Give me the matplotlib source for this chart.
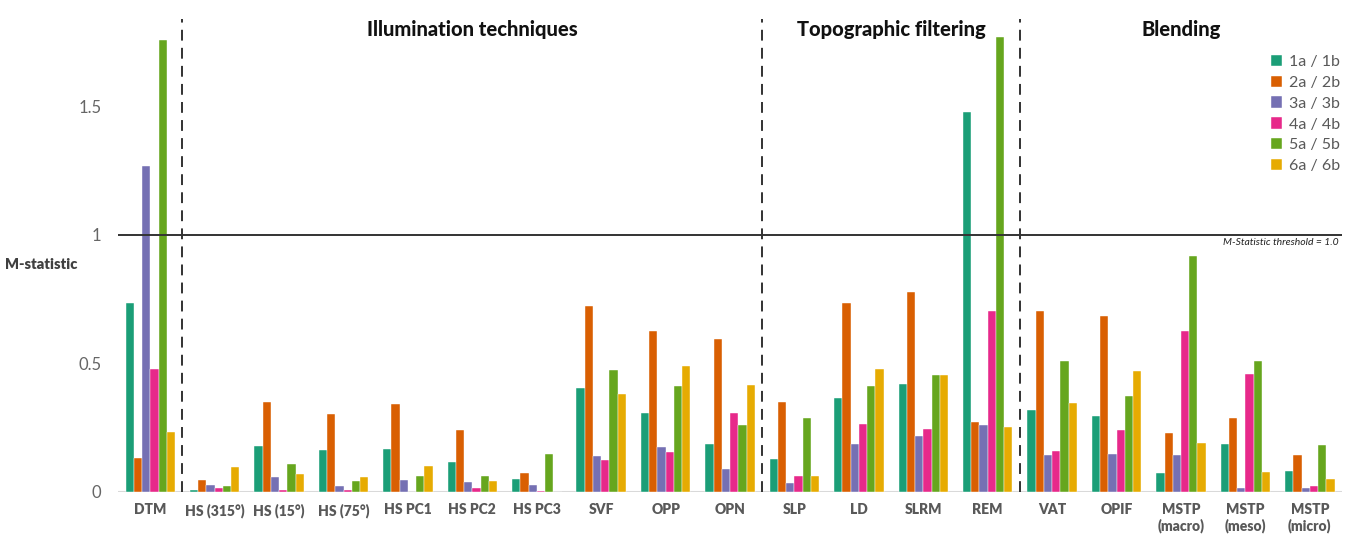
import matplotlib
matplotlib.use("Agg")
import matplotlib.pyplot as plt
import numpy as np

plt.rcParams['font.family'] = ['Lato', 'DejaVu Sans']

categories = ["DTM", "HS (315°)", "HS (15°)", "HS (75°)", "HS PC1", "HS PC2",
              "HS PC3", "SVF", "OPP", "OPN", "SLP", "LD", "SLRM", "REM",
              "VAT", "OPIF", "MSTP\n(macro)", "MSTP\n(meso)", "MSTP\n(micro)"]

series_names = ["1a / 1b", "2a / 2b", "3a / 3b", "4a / 4b", "5a / 5b", "6a / 6b"]

s1 = [0.735, 0.006, 0.180, 0.165, 0.168, 0.115, 0.049, 0.403, 0.307, 0.185,
      0.130, 0.366, 0.419, 1.479, 0.320, 0.297, 0.074, 0.187, 0.083]
s2 = [0.132, 0.047, 0.350, 0.305, 0.341, 0.242, 0.072, 0.725, 0.625, 0.595,
      0.349, 0.737, 0.778, 0.274, 0.704, 0.686, 0.228, 0.288, 0.144]
s3 = [1.270, 0.026, 0.057, 0.023, 0.048, 0.039, 0.027, 0.141, 0.175, 0.089,
      0.035, 0.185, 0.218, 0.261, 0.144, 0.149, 0.143, 0.016, 0.016]
s4 = [0.478, 0.016, 0.009, 0.009, 0.000, 0.016, 0.003, 0.126, 0.157, 0.307,
      0.062, 0.265, 0.244, 0.704, 0.160, 0.241, 0.626, 0.458, 0.023]
s5 = [1.757, 0.022, 0.109, 0.041, 0.063, 0.062, 0.149, 0.475, 0.411, 0.262,
      0.288, 0.414, 0.456, 1.770, 0.510, 0.373, 0.918, 0.511, 0.181]
s6 = [0.233, 0.096, 0.071, 0.057, 0.101, 0.043, 0.000, 0.380, 0.489, 0.415,
      0.063, 0.478, 0.456, 0.254, 0.347, 0.469, 0.189, 0.079, 0.052]

sections = ["Illumination techniques", "Topographic filtering", "Blending"]
section_bounds = [(0.5, 9.5), (9.5, 13.5), (13.5, 18.5)]

colors = ["#1b9e77", "#d95f02", "#7570b3", "#e7298a", "#66a61e", "#e6ab02"]

fig = plt.figure(figsize=(13.6, 5.34), dpi=100)
ax = fig.add_axes([0.0868, 0.0787, 0.9, 0.8857])

x = np.arange(len(categories))
w = 0.128
allseries = [s1, s2, s3, s4, s5, s6]
for i, s in enumerate(allseries):
    ax.bar(x + (i - 2.5) * w, s, w, color=colors[i], label=series_names[i],
           edgecolor="white", linewidth=0.3, zorder=2)

ax.set_xlim(-0.5, 18.5)
ax.set_ylim(0, 1.84)

# separators between sections
for b in [0.5, 9.5, 13.5]:
    ax.axvline(b, color="#222222", linestyle=(0, (6, 4)), linewidth=1.3, zorder=3)

for name, (a, b) in zip(sections, section_bounds):
    ax.text((a + b) / 2, 1.8, name, ha="center", va="center", fontsize=14.5,
            fontweight="black", color="#111111")

ax.axhline(1.0, color="#333333", linewidth=1.4, zorder=3)
ax.text(18.45, 0.972, "M-Statistic threshold = 1.0", ha="right", va="center",
        fontsize=7.5, style="italic", color="#222222")
ax.axhline(0, color="#d9d9d9", linewidth=1.5, zorder=1)

for sp in ax.spines.values():
    sp.set_visible(False)

ax.set_yticks([0, 0.5, 1, 1.5])
ax.set_yticklabels(["0", "0.5", "1", "1.5"])
ax.tick_params(axis="y", length=0, labelsize=12, labelcolor="#666666", pad=12)
ax.set_xticks(x)
ax.set_xticklabels(categories, fontsize=10, fontweight="heavy", color="#595959")
ax.tick_params(axis="x", length=0, pad=8)

fig.text(0.004, 0.505, "M-statistic", fontsize=10.5, fontweight="heavy",
         color="#404040", va="center", ha="left")

leg = ax.legend(loc="upper right", bbox_to_anchor=(1.01, 0.955), frameon=False,
                fontsize=11.5, handlelength=0.7, handleheight=0.7,
                handletextpad=0.4, labelspacing=0.42, labelcolor="#595959")

fig.savefig("out.png", dpi=100)
